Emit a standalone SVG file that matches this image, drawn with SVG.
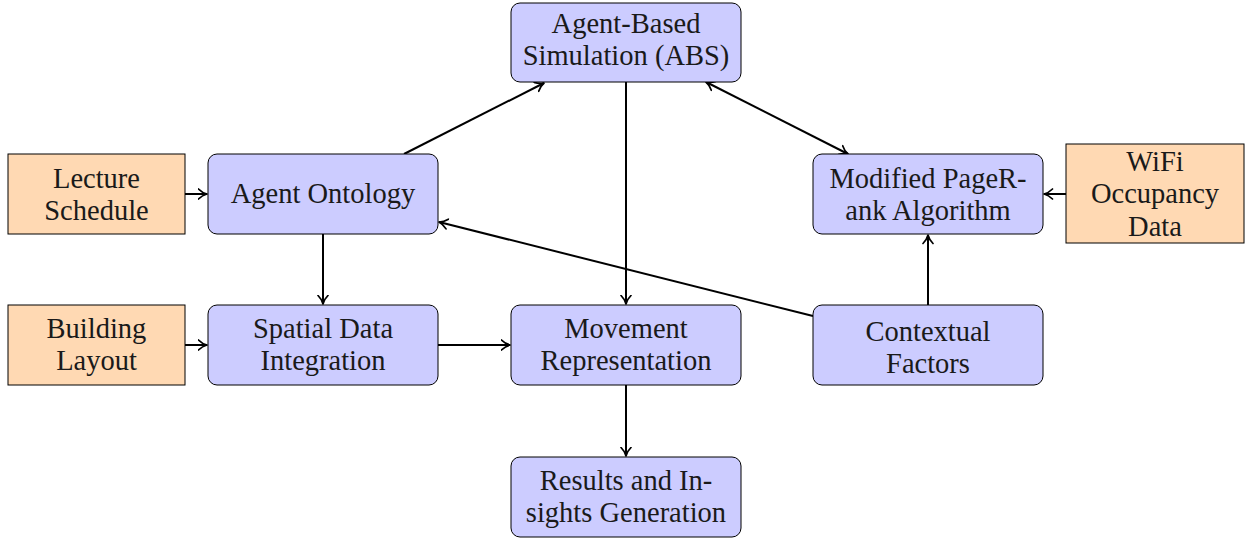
<svg xmlns="http://www.w3.org/2000/svg" width="1245" height="538" viewBox="0 0 1245 538">
<defs>
<marker id="arr" viewBox="-9 -6 11 12" refX="0.5" refY="0" markerWidth="11" markerHeight="12" markerUnits="userSpaceOnUse" orient="auto-start-reverse">
<path d="M-8,-5 C-5,-2 -1.5,-0.5 0.5,0 C-1.5,0.5 -5,2 -8,5" fill="none" stroke="#000" stroke-width="1.7" stroke-linecap="round" stroke-linejoin="round"/>
</marker>
<style>
.b{fill:#ccccff;stroke:#000;stroke-width:1}
.o{fill:#ffd9b3;stroke:#000;stroke-width:1}
.e{fill:none;stroke:#000;stroke-width:2;marker-end:url(#arr)}
</style>
</defs>
<g id="connectors">
<line class="e" x1="185" y1="194" x2="207" y2="194"/>
<line class="e" x1="185" y1="345" x2="207" y2="345"/>
<line class="e" x1="404" y1="154" x2="544" y2="83"/>
<line class="e" x1="626" y1="82" x2="626" y2="304"/>
<line class="e" x1="706" y1="82" x2="848" y2="154" style="marker-start:url(#arr)"/>
<line class="e" x1="1066" y1="194" x2="1044" y2="194"/>
<line class="e" x1="928" y1="305" x2="928" y2="235"/>
<line class="e" x1="813" y1="316" x2="439" y2="222"/>
<line class="e" x1="323" y1="234" x2="323" y2="304"/>
<line class="e" x1="438" y1="345" x2="510" y2="345"/>
<line class="e" x1="626" y1="385" x2="626" y2="456"/>
</g>
<g font-family="'Liberation Serif', 'DejaVu Serif', serif" font-size="28.5" fill="#1a1a1a" text-anchor="middle">
<g id="abs"><rect class="b" x="511" y="3" width="230" height="79" rx="9"/><text x="626" y="33">Agent-Based</text><text x="626" y="65">Simulation (ABS)</text></g>
<g id="lecture"><rect class="o" x="8" y="154" width="177" height="80"/><text x="96.5" y="188">Lecture</text><text x="96.5" y="220">Schedule</text></g>
<g id="ontology"><rect class="b" x="208" y="154" width="230" height="80" rx="9"/><text x="323" y="203">Agent Ontology</text></g>
<g id="pagerank"><rect class="b" x="813" y="154" width="230" height="80" rx="9"/><text x="928" y="188">Modified PageR-</text><text x="928" y="220">ank Algorithm</text></g>
<g id="wifi"><rect class="o" x="1066" y="144" width="178" height="99"/><text x="1155" y="171">WiFi</text><text x="1155" y="203">Occupancy</text><text x="1155" y="236">Data</text></g>
<g id="building"><rect class="o" x="8" y="305" width="177" height="80"/><text x="96.5" y="338">Building</text><text x="96.5" y="370">Layout</text></g>
<g id="spatial"><rect class="b" x="208" y="305" width="230" height="80" rx="9"/><text x="323" y="338">Spatial Data</text><text x="323" y="370">Integration</text></g>
<g id="movement"><rect class="b" x="511" y="305" width="230" height="80" rx="9"/><text x="626" y="338">Movement</text><text x="626" y="370">Representation</text></g>
<g id="contextual"><rect class="b" x="813" y="305" width="230" height="80" rx="9"/><text x="928" y="341">Contextual</text><text x="928" y="373">Factors</text></g>
<g id="results"><rect class="b" x="511" y="457" width="230" height="80" rx="9"/><text x="626" y="490">Results and In-</text><text x="626" y="522">sights Generation</text></g>
</g>
</svg>
